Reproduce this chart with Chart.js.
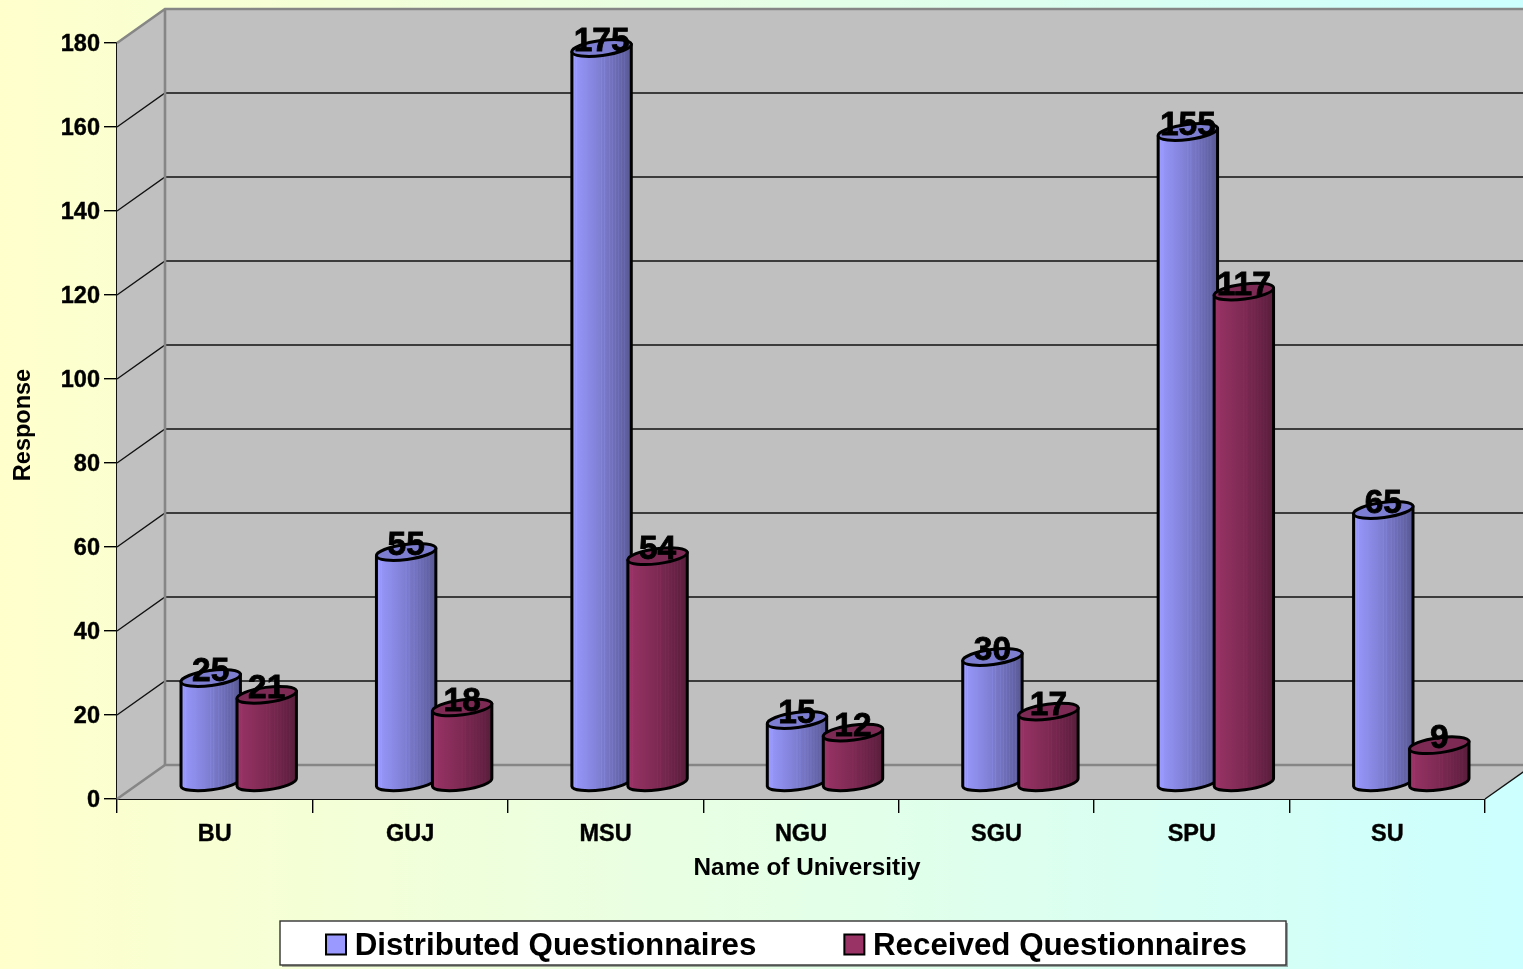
<!DOCTYPE html>
<html><head><meta charset="utf-8">
<script src="https://cdn.jsdelivr.net/npm/chart.js@4"></script>
<style>html,body{margin:0;padding:0;width:1523px;height:969px;overflow:hidden;background:#fff}canvas{display:block}</style>
</head><body><canvas id="c" width="1523" height="969"></canvas>
<script>
const categories = ["BU","GUJ","MSU","NGU","SGU","SPU","SU"];
const distributed = [25,55,175,15,30,155,65];
const received = [21,18,54,12,17,117,9];
const seriesNames = ["Distributed Questionnaires","Received Questionnaires"];
const seriesColors = ["#9999FF","#993366"];
const yTicks = {min:0,max:180,step:20};
const xTitle = "Name of Universitiy";
const yTitle = "Response";

const FONT = '"Liberation Sans", Arial, sans-serif';
const DEPTH = {x:48,y:-34}, BAR_SHIFT = {x:24,y:-16};
const TILT = -0.13, RY = 7.5;
const STRIPES = [3,5,30,33,38,41,44,47,50,53];

function shade(hex,f){
  const n=parseInt(hex.slice(1),16);
  const c=[n>>16&255,n>>8&255,n&255].map(v=>Math.max(0,Math.min(255,Math.round(v*f))));
  return `rgb(${c[0]},${c[1]},${c[2]})`;
}
function bodyGradient(ctx,x0,x1,hex){
  const g=ctx.createLinearGradient(x0,0,x1,0);
  const n=60;
  for(let i=0;i<=n;i++){
    const p=i/n;
    let f=1.0-0.14*Math.min(p/0.4,1)-0.28*Math.max(0,(p-0.4)/0.6);
    if(STRIPES.includes(i)) f+=0.05;
    g.addColorStop(p,shade(hex,f));
  }
  return g;
}
Chart.BarElement.prototype.draw=function(ctx){
  const hex=this.options.backgroundColor;
  const w=this.width, rx=w/2;
  const cx=this.x+BAR_SHIFT.x, top=this.y+BAR_SHIFT.y, base=this.base+BAR_SHIFT.y;
  const ox=rx*Math.cos(TILT), oy=rx*Math.sin(TILT);
  ctx.save();
  ctx.lineWidth=3; ctx.strokeStyle='#000'; ctx.lineJoin='round';
  ctx.beginPath();
  ctx.moveTo(cx-ox,top-oy);
  ctx.lineTo(cx-ox,base-oy);
  ctx.ellipse(cx,base,rx,RY,TILT,Math.PI,0,true);
  ctx.lineTo(cx+ox,top+oy);
  ctx.closePath();
  ctx.fillStyle=bodyGradient(ctx,cx-rx,cx+rx,hex);
  ctx.fill(); ctx.stroke();
  ctx.beginPath();
  ctx.ellipse(cx,top,rx,RY,TILT,0,Math.PI*2);
  ctx.fillStyle=shade(hex,0.82);
  ctx.fill(); ctx.stroke();
  ctx.restore();
};

const scene={
  id:'scene',
  beforeDraw(chart){
    const {ctx,width,height}=chart;
    const g=ctx.createLinearGradient(0,0,width,0);
    g.addColorStop(0,'#FFFFCC'); g.addColorStop(1,'#CCFFFF');
    ctx.save(); ctx.fillStyle=g; ctx.fillRect(0,0,width,height);
    ctx.fillStyle='rgba(90,90,90,0.55)';ctx.fillRect(282,923,1006,44);
    ctx.fillStyle='#fff';ctx.strokeStyle='#333';ctx.lineWidth=1.4;
    ctx.fillRect(280,921,1006,44);ctx.strokeRect(280,921,1006,44);
    ctx.restore();
  },
  afterLayout(chart){
    const l=chart.legend;
    l.left+=44; l.right+=44; l.top=843;
    const xs=chart.scales.x;
    if(!xs._shifted){
      const orig=xs.drawTitle;
      xs.drawTitle=function(){chart.ctx.save();chart.ctx.translate(6,0);orig.apply(this,arguments);chart.ctx.restore();};
      xs._shifted=true;
    }
    const ys=chart.scales.y;
    if(!ys._shifted){
      const orig=ys.drawTitle;
      ys.drawTitle=function(){chart.ctx.save();chart.ctx.translate(0,4);orig.apply(this,arguments);chart.ctx.restore();};
      ys._shifted=true;
    }
  },
  beforeDatasetsDraw(chart){
    const {ctx}=chart, xs=chart.scales.x, ys=chart.scales.y;
    const L=xs.left,R=xs.right,B=ys.getPixelForValue(yTicks.min),T=ys.getPixelForValue(yTicks.max);
    const dx=DEPTH.x,dy=DEPTH.y;
    ctx.save();
    ctx.fillStyle='#C0C0C0';
    ctx.beginPath();ctx.moveTo(L,T);ctx.lineTo(L+dx,T+dy);ctx.lineTo(R+dx,T+dy);ctx.lineTo(R+dx,B+dy);ctx.lineTo(R,B);ctx.lineTo(L,B);ctx.closePath();ctx.fill();
    ctx.strokeStyle='#111';ctx.lineWidth=1.4;
    for(let v=yTicks.min+yTicks.step;v<yTicks.max;v+=yTicks.step){
      const y=ys.getPixelForValue(v);
      ctx.beginPath();ctx.moveTo(L,y);ctx.lineTo(L+dx,y+dy);ctx.lineTo(R+dx,y+dy);ctx.stroke();
    }
    ctx.beginPath();ctx.moveTo(R,B);ctx.lineTo(R+dx,B+dy);ctx.stroke();
    ctx.strokeStyle='#868686';ctx.lineWidth=2.6;
    ctx.beginPath();ctx.moveTo(L,T);ctx.lineTo(L+dx,T+dy);ctx.lineTo(R+dx,T+dy);ctx.stroke();
    ctx.beginPath();ctx.moveTo(L+dx,T+dy);ctx.lineTo(L+dx,B+dy);ctx.stroke();
    ctx.beginPath();ctx.moveTo(L,B);ctx.lineTo(L+dx,B+dy);ctx.lineTo(R+dx,B+dy);ctx.stroke();
    ctx.restore();
  },
  beforeDatasetDraw(){ return false; },
  afterDatasetsDraw(chart){
    const {ctx}=chart;
    chart.data.datasets.forEach((ds,i)=>{ chart.getDatasetMeta(i).controller.draw(); });
    ctx.save();
    ctx.font=`bold 33.5px ${FONT}`;ctx.fillStyle='#000';ctx.strokeStyle='#000';ctx.lineWidth=0.8;ctx.textAlign='center';ctx.textBaseline='middle';
    chart.data.datasets.forEach((ds,i)=>{
      chart.getDatasetMeta(i).data.forEach((el,j)=>{
        const tx=el.x+BAR_SHIFT.x, ty=el.y+BAR_SHIFT.y-6;
        ctx.fillText(String(ds.data[j]),tx,ty);
        ctx.strokeText(String(ds.data[j]),tx,ty);
      });
    });
    ctx.restore();
  },
  afterDraw(chart){
    const {ctx}=chart;
    ctx.save();
    ctx.lineWidth=2;ctx.strokeStyle='#000';
    chart.legend.legendHitBoxes.forEach((h,i)=>{
      ctx.fillStyle=seriesColors[i];
      ctx.fillRect(h.left,934.5,20,20);ctx.strokeRect(h.left,934.5,20,20);
    });
    ctx.restore();
  }
};

new Chart(document.getElementById('c'),{
  type:'bar',
  data:{labels:categories,datasets:[
    {label:seriesNames[0],data:distributed,backgroundColor:seriesColors[0],categoryPercentage:0.573,barPercentage:1.07},
    {label:seriesNames[1],data:received,backgroundColor:seriesColors[1],categoryPercentage:0.573,barPercentage:1.07}
  ]},
  options:{
    responsive:false,animation:false,devicePixelRatio:1,
    layout:{padding:{top:43,right:38,left:0,bottom:0}},
    plugins:{
      tooltip:{enabled:false},
      title:{display:false},
      legend:{display:true,position:'bottom',maxHeight:44,
        labels:{boxWidth:13,boxHeight:13,padding:88,color:'#000',font:{family:FONT,size:31.3,weight:'bold'},
          generateLabels(chart){
            return chart.data.datasets.map((d,i)=>({text:d.label,fillStyle:'transparent',strokeStyle:'transparent',lineWidth:0,datasetIndex:i,hidden:false}));
          }}}
    },
    scales:{
      x:{
        afterFit(s){s.height=126;},
        grid:{drawOnChartArea:false,drawTicks:true,tickLength:14,color:'#000',lineWidth:1.4,offset:true},
        border:{display:true,color:'#111',width:2},
        ticks:{color:'#000',padding:7,autoSkip:false,maxRotation:0,textStrokeColor:'#000',textStrokeWidth:0.4,font:{family:FONT,size:23.5,weight:'bold'}},
        title:{display:true,text:xTitle,color:'#000',font:{family:FONT,size:24.3,weight:'bold'},padding:{top:0,bottom:42}}
      },
      y:{
        min:yTicks.min,max:yTicks.max,
        afterFit(s){s.width=117;},
        grid:{drawOnChartArea:false,drawTicks:true,tickLength:13,color:'#000',lineWidth:1.4},
        border:{display:true,color:'#111',width:2},
        ticks:{stepSize:yTicks.step,color:'#000',padding:4,labelOffset:1.5,textStrokeColor:'#000',textStrokeWidth:0.4,font:{family:FONT,size:23.5,weight:'bold'}},
        title:{display:true,text:yTitle,color:'#000',font:{family:FONT,size:23.5,weight:'bold'},padding:{top:9,bottom:7}}
      }
    }
  },
  plugins:[scene]
});
</script></body></html>
